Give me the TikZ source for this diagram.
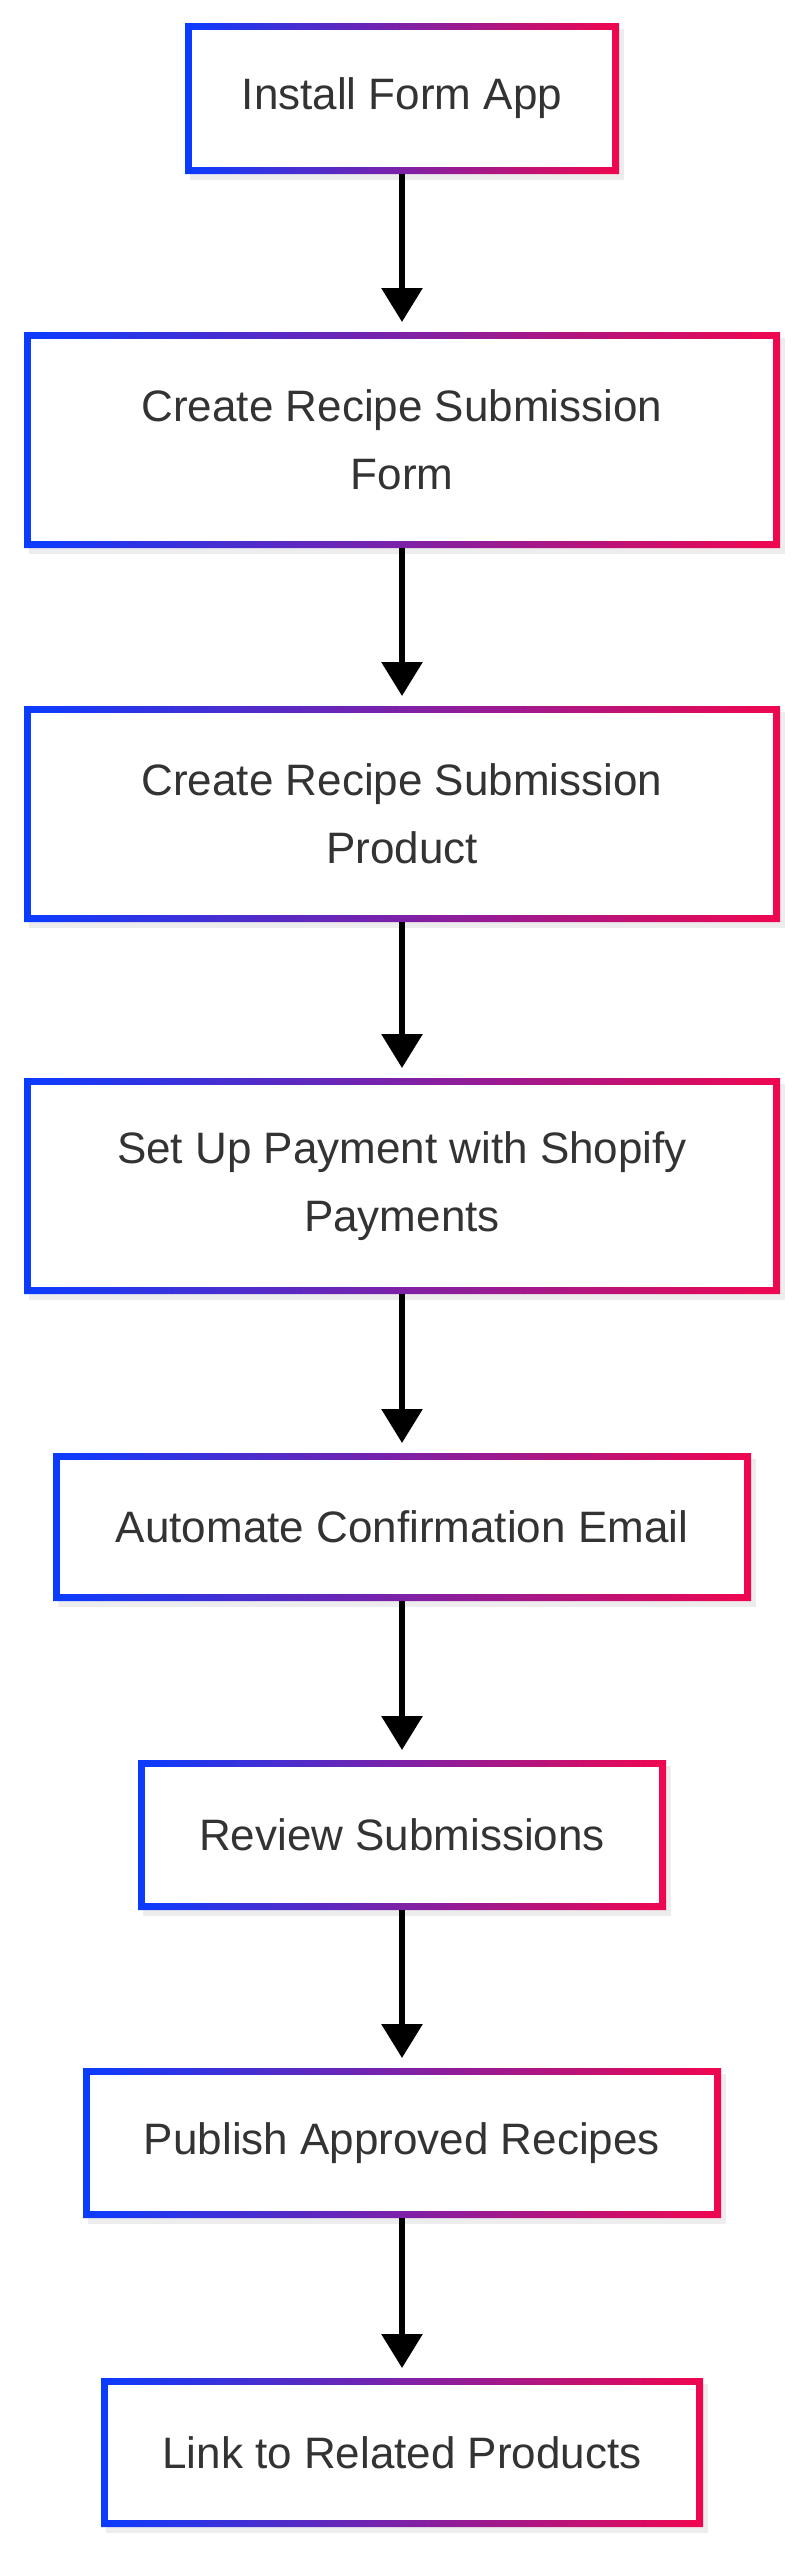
\documentclass[tikz,border=0pt]{standalone}
\usepackage{fontspec}
\setmainfont{Liberation Sans}
\usetikzlibrary{arrows.meta}
\definecolor{gA}{HTML}{0A3CFF}
\definecolor{gB}{HTML}{F0064F}
\definecolor{txt}{HTML}{333333}
\tikzset{x=1pt,y=-1pt,
  boxtext/.style={text=txt,font=\fontsize{44}{68}\selectfont,align=center,inner sep=0pt},
  flow/.style={line width=6pt,-{Triangle[length=34pt,width=40pt]}}}
% name, left, top, right, bottom, text
\newcommand{\gbox}[6]{%
  \fill[black!7] (#2+5,#3+6) rectangle (#4+5,#5+6);
  \shade[left color=gA,right color=gB,middle color=gA!50!gB,even odd rule]
    (#2,#3) rectangle (#4,#5)
    (#2+7,#3+7) rectangle (#4-7,#5-7);
  \fill[white] (#2+7,#3+7) rectangle (#4-7,#5-7);
  \node[boxtext] (#1) at (402,{(#3+#5)/2}) {#6};
  \coordinate (#1t) at (402,#3);
  \coordinate (#1b) at (402,#5);}
\begin{document}
\begin{tikzpicture}
\useasboundingbox (0,0) rectangle (805,2560);
\gbox{a}{185}{23}{619}{174}{Install Form App}
\gbox{b}{24}{332}{780}{548}{Create Recipe Submission\\Form}
\gbox{c}{24}{706}{780}{922}{Create Recipe Submission\\Product}
\gbox{d}{24}{1078}{780}{1294}{Set Up Payment with Shopify\\Payments}
\gbox{e}{53}{1453}{751}{1601}{Automate Confirmation Email}
\gbox{f}{138}{1760}{666}{1910}{Review Submissions}
\gbox{g}{83}{2068}{721}{2218}{Publish Approved Recipes}
\gbox{h}{101}{2378}{703}{2527}{Link to Related Products}
\foreach \u/\v in {a/b,b/c,c/d,d/e,e/f,f/g,g/h}
  \draw[flow] (\u b) -- ([yshift=10pt]\v t);
\end{tikzpicture}
\end{document}
